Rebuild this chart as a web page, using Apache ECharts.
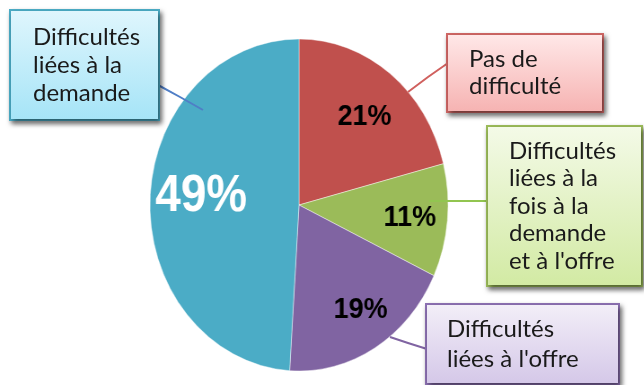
<!DOCTYPE html>
<html><head><meta charset="utf-8">
<script src="https://cdn.jsdelivr.net/npm/echarts@6/dist/echarts.min.js"></script>
<style>
html,body{margin:0;padding:0;background:#fff;}
#wrap{position:relative;width:644px;height:385px;overflow:hidden;background:#fff;}
#pie{position:absolute;left:0;top:0;width:644px;height:385px;transform:scaleX(0.898);transform-origin:299px 205px;}
#ann{position:absolute;left:0;top:0;width:644px;height:385px;}
</style></head><body>
<div id="wrap"><div id="pie"></div><div id="ann"></div></div>
<script>
// ---- data ----
const categories = ['Pas de difficulté', "Difficultés liées à la fois à la demande et à l'offre", "Difficultés liées à l'offre", 'Difficultés liées à la demande'];
const values = [21, 11, 19, 49];
const boxLabels = ['Pas de\ndifficulté', "Difficultés\nliées à la\nfois à la\ndemande\net à l'offre", "Difficultés\nliées à l'offre", 'Difficultés\nliées à la\ndemande'];

// ---- styles ----
const sliceColors = ['#C0504D', '#9BBB59', '#8064A2', '#4BACC6'];
const pctFont = [{size:30,color:'#000'},{size:30,color:'#000'},{size:30,color:'#000'},{size:51,color:'#fff'}];
const pctShift = [[0,6],[5,2],[8,2],[10,-4]];
const boxTop = ['#FFE9E9','#F4FAE8','#F3EFF8','#E0F6FD'];
const boxBottom = ['#F6B2B1','#D2EAA3','#D4C7E8','#A5E4F7'];
const boxBorder = ['#CF6664','#9BBB59','#8C70B2','#4BACC6'];
const boxPos = [[448,35],[488,127],[427,305],[11,11]];
const boxPad = [[11,8,11,21],[10,8,10,21],[9,8,9,20],[12,8,12,22]];
const boxW = [125,124,163,117];
const boxLH = [27,27.6,30,28];
const lineColor = ['#D0605E','#92C550','#8064A2','#4F7EC6'];
const linePts = [
  [[408,92],[428,77],[448,63]],
  [[429,201],[458,201],[488,201]],
  [[390,337],[408,343],[427,349]],
  [[203,110],[180,97],[158,85]]
];

const pieChart = echarts.init(document.getElementById('pie'), null, {renderer:'canvas'});
pieChart.setOption({
  animation:false,
  series:[
    {
      type:'pie', center:[299,205], radius:[0,166], startAngle:90, clockwise:true,
      silent:true, label:{show:false}, labelLine:{show:false},
      itemStyle:{borderColor:'rgba(255,255,255,0.55)', borderWidth:0.8},
      data: categories.map((c,i)=>({name:c, value:values[i], itemStyle:{color:sliceColors[i]}}))
    },
    {
      type:'pie', center:[299,205], radius:[66,166], startAngle:90, clockwise:true,
      silent:true, avoidLabelOverlap:false,
      itemStyle:{color:'rgba(0,0,0,0)'},
      label:{show:true, position:'inside', formatter:'{c}%', fontFamily:'Liberation Sans', fontWeight:'bold'},
      labelLine:{show:false},
      labelLayout:(p)=>({dx:pctShift[p.dataIndex][0], dy:pctShift[p.dataIndex][1]}),
      data: categories.map((c,i)=>({name:c, value:values[i], label:{fontSize:pctFont[i].size, color:pctFont[i].color}}))
    }
  ]
});

const annChart = echarts.init(document.getElementById('ann'), null, {renderer:'canvas'});
annChart.setOption({
  animation:false,
  series:[{
    type:'pie', center:[299,205], radius:[0,150], startAngle:90, clockwise:true,
    silent:true, avoidLabelOverlap:false,
    itemStyle:{color:'rgba(0,0,0,0)'},
    label:{show:true, position:'outside', fontFamily:'Lato', fontSize:24, color:'#1a1a1a'},
    labelLine:{show:true, length:10, length2:10},
    labelLayout:(p)=>{const i=p.dataIndex; return {x:boxPos[i][0], y:boxPos[i][1], align:'left', verticalAlign:'top', labelLinePoints:linePts[i]};},
    data: categories.map((c,i)=>({
      name:c, value:values[i],
      label:{
        formatter: boxLabels[i], width: boxW[i], lineHeight: boxLH[i], padding: boxPad[i],
        backgroundColor:{type:'linear',x:0,y:0,x2:0,y2:1,colorStops:[{offset:0,color:boxTop[i]},{offset:1,color:boxBottom[i]}]},
        borderColor: boxBorder[i], borderWidth:2,
        shadowColor:'rgba(0,0,0,0.5)', shadowBlur:5, shadowOffsetX:2, shadowOffsetY:3
      },
      labelLine:{lineStyle:{color:lineColor[i], width:2}}
    }))
  }]
});
</script>
</body></html>
